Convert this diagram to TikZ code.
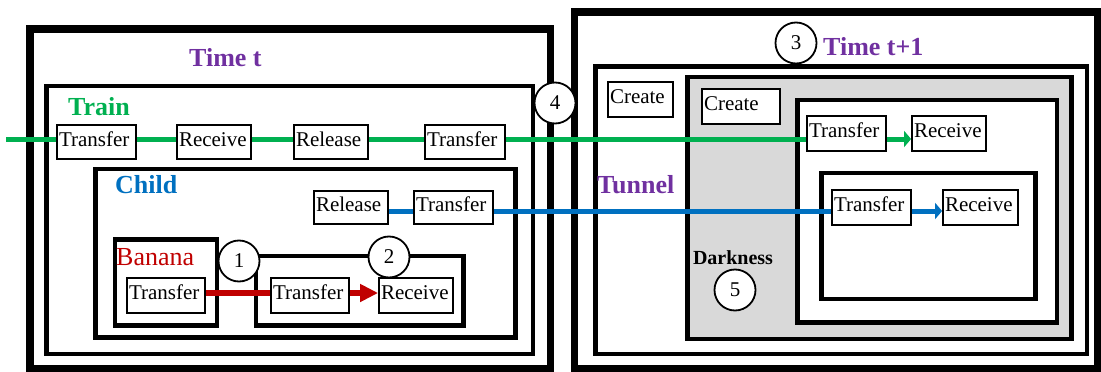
\documentclass[tikz,border=0pt]{standalone}
\usepackage{fontspec}
\setmainfont{Liberation Serif}
\usetikzlibrary{arrows.meta}
\pgfdeclarelayer{frames}
\pgfdeclarelayer{links}
\pgfsetlayers{frames,links,main}
\definecolor{trainc}{HTML}{00B050}
\definecolor{childc}{HTML}{0070C0}
\definecolor{bananac}{HTML}{C00000}
\definecolor{timec}{HTML}{7030A0}
\tikzset{
  bigframe/.style={draw=black, line width=7.5pt},
  frame/.style={draw=black, line width=4.5pt},
  act/.style={draw=black, fill=white, line width=1.8pt,
    font=\fontsize{21}{24}\selectfont, inner xsep=2pt, inner ysep=0pt,
    align=left, text height=15pt, text depth=7pt},
  num/.style={draw=black, circle, fill=white, line width=1.8pt,
    minimum size=41pt, inner sep=0pt, font=\fontsize{21}{24}\selectfont},
  title/.style={font=\fontsize{26}{30}\selectfont\bfseries, anchor=base west, inner sep=0pt},
  flow/.style={line width=5pt},
  smalltip/.style={-{Triangle[length=7pt,width=16pt]}},
  bigtip/.style={-{Triangle[length=18pt,width=17pt]}},
}
\begin{document}
\begin{tikzpicture}[x=1pt,y=-1pt]
\useasboundingbox (0,0) rectangle (1101,372);

% nested scopes
\begin{pgfonlayer}{frames}
  % time t
  \draw[bigframe] (30,29) rectangle (550.5,369);
  \draw[frame] (46.5,86) rectangle (533,354);
  \draw[frame] (95.5,169) rectangle (515.5,337.5);
  \draw[frame] (115,239.5) rectangle (217,325.5);
  \draw[frame] (256,256) rectangle (463.5,325.5);
  % time t+1
  \draw[bigframe] (574.5,12) rectangle (1097.5,369);
  \draw[frame] (595.5,66.5) rectangle (1087,354);
  \draw[frame, fill=black!15] (687.5,77) rectangle (1071.5,339);
  \draw[frame, fill=white] (797.5,100) rectangle (1057,322.5);
  \draw[frame] (821.5,173) rectangle (1035.5,299);
\end{pgfonlayer}

% scope titles
\node[title, timec] (tlbl) at (189,66.5) {Time t};
\node[title, timec] (t1lbl) at (823,55) {Time t+1};
\node[title, trainc] (trainlbl) at (68,115) {Train};
\node[title, childc] (childlbl) at (115,193) {Child};
\node[title, timec] (tunnellbl) at (597,193) {Tunnel};
\node[title, bananac, font=\fontsize{26}{30}\selectfont] (bananalbl) at (116,265) {Banana};
\node[font=\fontsize{20}{24}\selectfont\bfseries, anchor=base, inner sep=0pt] (darklbl) at (733,264) {Darkness};

% actions at time t
\node[act, text width=75pt, minimum height=34pt] (tr1) at (96.5,142) {Transfer};
\node[act, text width=70pt, minimum height=34pt] (rc1) at (214,142) {Receive};
\node[act, text width=70pt, minimum height=34pt] (rl1) at (331,142) {Release};
\node[act, text width=76pt, minimum height=34pt] (tr2) at (465,142) {Transfer};
\node[act, text width=70pt, minimum height=33pt] (rl2) at (351,207.5) {Release};
\node[act, text width=75pt, minimum height=33pt] (tr4) at (453.5,207.5) {Transfer};
\node[act, text width=74pt, minimum height=35pt] (tb) at (166,295.5) {Transfer};
\node[act, text width=74pt, minimum height=35pt] (tc) at (310,295.5) {Transfer};
\node[act, text width=70pt, minimum height=35pt] (rb) at (416,295.5) {Receive};

% actions at time t+1
\node[act, text width=61pt, minimum height=35pt] (c1) at (640.5,99.5) {Create};
\node[act, text width=74pt, minimum height=35pt] (c2) at (741,106.5) {Create};
\node[act, text width=75pt, minimum height=35pt] (tr5) at (846.5,133.5) {Transfer};
\node[act, text width=70pt, minimum height=35pt] (rc5) at (949,133.5) {Receive};
\node[act, text width=75pt, minimum height=35pt] (tr6) at (871.5,207.5) {Transfer};
\node[act, text width=71pt, minimum height=35pt] (rc6) at (980.5,207.5) {Receive};

% numbered markers
\node[num] (n1) at (239,261) {1};
\node[num] (n2) at (389,257) {2};
\node[num] (n3) at (796,43) {3};
\node[num] (n4) at (555,103) {4};
\node[num] (n5) at (735,290) {5};

% flows
\coordinate (gstart) at (6,139);
\coordinate (bline) at (0,211);
\coordinate (rline) at (0,293);
\begin{pgfonlayer}{links}
  \draw[flow, trainc] (gstart) -- (gstart -| tr5.west);
  \draw[flow, trainc, smalltip] (tr5.east |- gstart) -- (rc5.west |- gstart);
  \draw[flow, childc] (rl2.east |- bline) -- (tr6.west |- bline);
  \draw[flow, childc, smalltip] (tr6.east |- bline) -- (rc6.west |- bline);
  \draw[line width=6.5pt, bananac] (tb.east |- rline) -- (tc.west |- rline);
  \draw[line width=6.5pt, bananac, bigtip] (tc.east |- rline) -- (rb.west |- rline);
\end{pgfonlayer}
\end{tikzpicture}
\end{document}
